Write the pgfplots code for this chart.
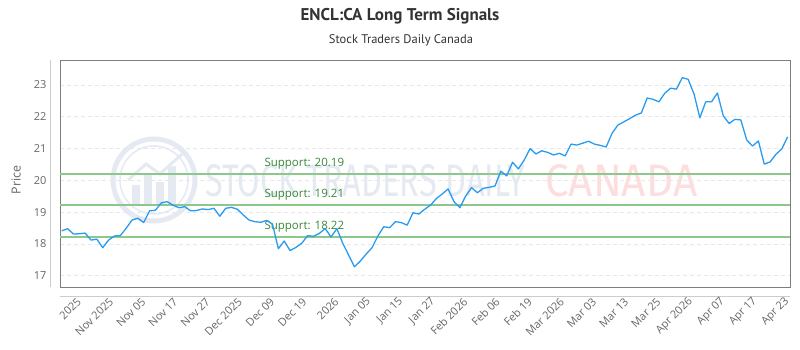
\documentclass[border=0pt]{standalone}
\usepackage{pgfplots}
\pgfplotsset{compat=1.18}
\usepackage{fontspec}
\usepackage{graphicx}
\setmainfont{Open Sans}
\newfontfamily\titlefont{PT Sans}
\newfontfamily\markfont{Fira Sans}

\definecolor{priceblue}{RGB}{40,155,240}
\definecolor{supportline}{RGB}{140,200,140}
\definecolor{supporttext}{RGB}{56,135,56}
\definecolor{ticktext}{RGB}{102,102,102}
\definecolor{titletext}{RGB}{51,51,51}
\definecolor{gridgray}{RGB}{232,232,232}
\definecolor{framegray}{RGB}{125,125,125}
\definecolor{axisgray}{RGB}{204,204,204}
\definecolor{markblue}{RGB}{228,233,242}
\definecolor{markred}{RGB}{252,222,222}

% closing prices, one per trading session
\pgfplotstableread{
idx price
0 18.41
1 18.48
2 18.31
3 18.32
4 18.34
5 18.12
6 18.15
7 17.88
8 18.12
9 18.25
10 18.26
11 18.49
12 18.75
13 18.81
14 18.67
15 19.04
16 19.06
17 19.29
18 19.33
19 19.22
20 19.14
21 19.17
22 19.04
23 19.05
24 19.10
25 19.08
26 19.12
27 18.87
28 19.12
29 19.15
30 19.09
31 18.91
32 18.75
33 18.70
34 18.68
35 18.74
36 18.62
37 17.85
38 18.09
39 17.79
40 17.89
41 18.02
42 18.26
43 18.24
44 18.33
45 18.48
46 18.22
47 18.48
48 18.02
49 17.65
50 17.28
51 17.46
52 17.68
53 17.88
54 18.25
55 18.54
56 18.51
57 18.70
58 18.67
59 18.59
60 18.98
61 18.94
62 19.09
63 19.22
64 19.43
65 19.57
66 19.73
67 19.33
68 19.14
69 19.51
70 19.77
71 19.61
72 19.75
73 19.78
74 19.82
75 20.29
76 20.14
77 20.57
78 20.36
79 20.64
80 21.00
81 20.83
82 20.93
83 20.88
84 20.80
85 20.85
86 20.77
87 21.14
88 21.11
89 21.17
90 21.23
91 21.14
92 21.10
93 21.05
94 21.48
95 21.74
96 21.84
97 21.94
98 22.05
99 22.12
100 22.59
101 22.55
102 22.47
103 22.74
104 22.90
105 22.87
106 23.23
107 23.18
108 22.72
109 21.97
110 22.47
111 22.47
112 22.75
113 22.03
114 21.79
115 21.92
116 21.90
117 21.27
118 21.08
119 21.24
120 20.51
121 20.58
122 20.82
123 20.99
124 21.37
}\pricedata

\begin{document}
\begin{tikzpicture}[x=1pt,y=1pt]
\path[use as bounding box] (0,0) rectangle (800,350);

% watermark
\draw[markblue, line width=5pt] (154,170) circle (41);
\draw[markblue, line width=1.5pt] (154,170) circle (34);
\fill[markblue] (132,146) rectangle (140,165);
\fill[markblue] (144,146) rectangle (152,175);
\fill[markblue] (156,146) rectangle (164,168);
\fill[markblue] (168,146) rectangle (176,184);
\draw[markblue, line width=3pt] (128,170) -- (146,186) -- (160,176) -- (182,196);
\node[anchor=west, inner sep=0, text=markblue] at (205,169)
  {\resizebox{320pt}{32pt}{\markfont STOCK TRADERS DAILY}};
\node[anchor=west, inner sep=0, text=markred] at (545,169)
  {\resizebox{152pt}{32pt}{\markfont CANADA}};

% titles
\node[font=\titlefont\bfseries\fontsize{17}{20}\selectfont, text=titletext] at (400,334) {ENCL:CA Long Term Signals};
\node[font=\titlefont\fontsize{12.5}{15}\selectfont, text=titletext] at (401,310) {Stock Traders Daily Canada};
\node[font=\fontsize{12.5}{15}\selectfont, text=ticktext, rotate=90] at (16,170) {Price};

% outer axis lines
\draw[axisgray, line width=0.8pt] (50.7,290) -- (50.7,63);
\draw[axisgray, line width=0.8pt] (60,54) -- (790,54);

\begin{axis}[
  at={(60pt,63pt)}, anchor=south west,
  scale only axis, width=730pt, height=227pt,
  xmin=-0.3, xmax=124.4, ymin=16.644, ymax=23.787,
  axis line style={framegray, line width=0.8pt},
  ytick={17,18,19,20,21,22,23},
  ymajorgrids,
  grid style={gridgray, dash pattern=on 4pt off 3pt, line width=0.6pt},
  major tick length=0pt,
  xtick={3.1,8.6,14.1,19.6,25.1,30.6,36.1,41.6,47.1,52.6,58.1,63.6,69.1,74.6,80.1,85.6,91.1,96.6,102.1,107.6,113.1,118.6,124.1},
  xticklabels={2025,Nov 2025,Nov 05,Nov 17,Nov 27,Dec 2025,Dec 09,Dec 19,2026,Jan 05,Jan 15,Jan 27,Feb 2026,Feb 06,Feb 19,Mar 2026,Mar 03,Mar 13,Mar 25,Apr 2026,Apr 07,Apr 17,Apr 23},
  tick label style={font=\fontsize{11}{13}\selectfont, text=ticktext},
  yticklabel style={xshift=-10pt},
  xticklabel style={yshift=-12pt, rotate=45, anchor=east, inner sep=1pt},
  /pgf/number format/assume math mode=true,
]
% support levels
\addplot[supportline, line width=2pt] coordinates {(-0.3,20.19) (124.4,20.19)};
\addplot[supportline, line width=2pt] coordinates {(-0.3,19.21) (124.4,19.21)};
\addplot[supportline, line width=2pt] coordinates {(-0.3,18.22) (124.4,18.22)};
\node[anchor=south west, inner sep=0, yshift=4.5pt, text=supporttext, font=\fontsize{11.5}{13}\selectfont] at (axis cs:34.6,20.19) {Support: 20.19};
\node[anchor=south west, inner sep=0, yshift=4.5pt, text=supporttext, font=\fontsize{11.5}{13}\selectfont] at (axis cs:34.6,19.21) {Support: 19.21};
\node[anchor=south west, inner sep=0, yshift=4.5pt, text=supporttext, font=\fontsize{11.5}{13}\selectfont] at (axis cs:34.6,18.22) {Support: 18.22};
% price
\addplot[priceblue, line width=1.3pt, line join=round] table[x=idx, y=price] {\pricedata};
\end{axis}
\end{tikzpicture}
\end{document}
